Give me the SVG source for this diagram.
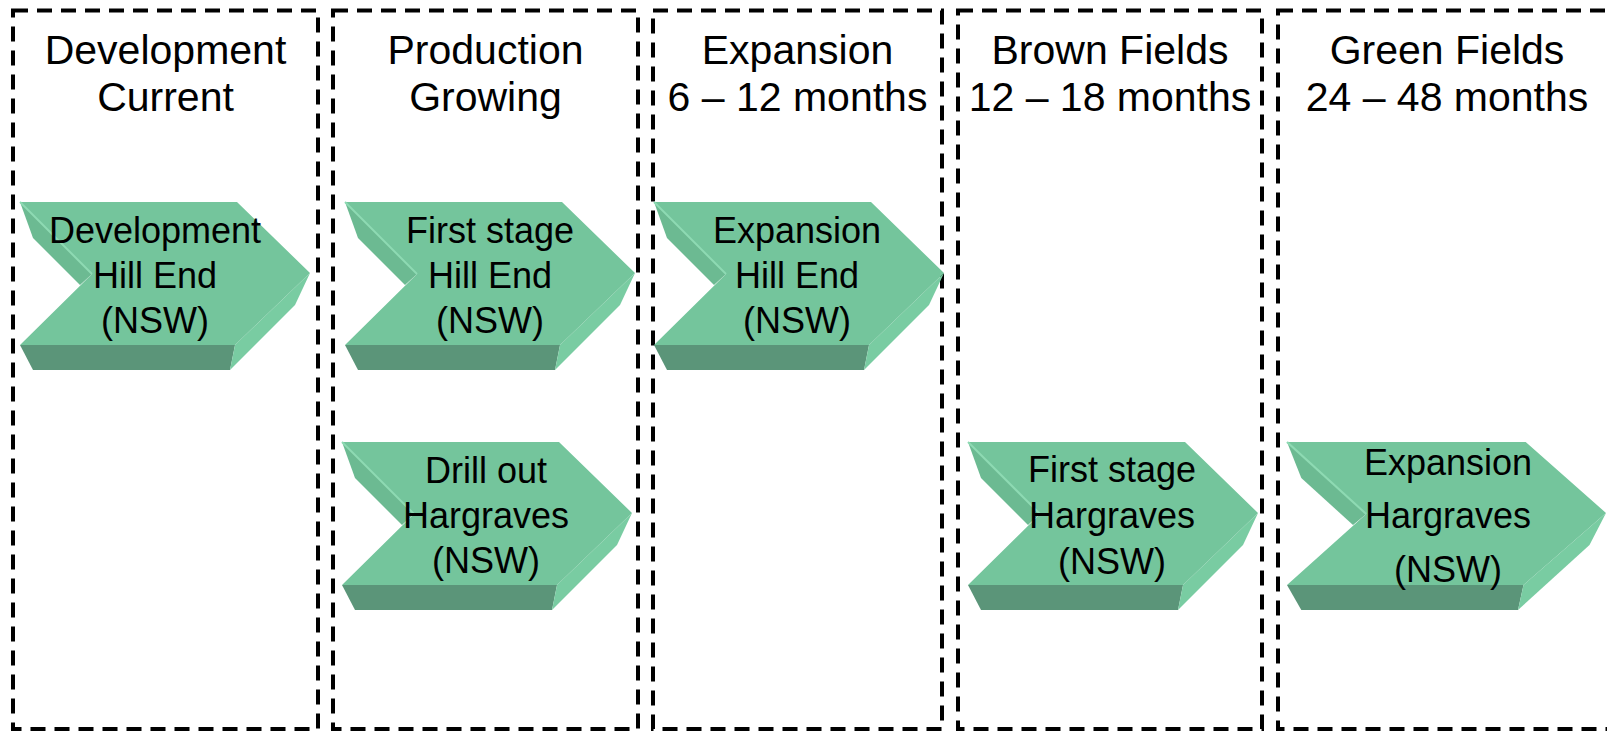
<svg xmlns="http://www.w3.org/2000/svg" xmlns:xlink="http://www.w3.org/1999/xlink" width="1607" height="731" viewBox="0 0 1607 731">
<style>
.col{fill:none;stroke:#000;stroke-width:4;stroke-dasharray:15 9}
.hd{font-family:"Liberation Sans",Arial,sans-serif;font-size:41px;fill:#000;text-anchor:middle}
.lb{font-family:"Liberation Sans",Arial,sans-serif;font-size:36px;fill:#000;text-anchor:middle}
.front{fill:#74c59c}
.left{fill:#6cba92}
.bottom{fill:#5b9579}
.right{fill:#79cca2}
.hl{fill:none;stroke:#8edab3;stroke-width:2}
</style>
<defs>
<g id="chev">
<polygon class="bottom" points="0,143 215,143 210,168 13,168"/>
<polygon class="right" points="290,71 275,103 210,168 215,143"/>
<polygon class="front" points="0,0 217,0 290,71 215,143 0,143 72,72"/>
<polygon class="left" points="0,0 72,72 60,83 13,36"/>
<polyline class="hl" points="0,0 72,72"/>
</g>
</defs>
<g id="columns">
<g id="col-development"><rect class="col" x="13" y="10.5" width="305" height="718.5"/>
<text class="hd" x="165.5" y="64">Development</text><text class="hd" x="165.5" y="111">Current</text></g>
<g id="col-production"><rect class="col" x="333" y="10.5" width="305" height="718.5"/>
<text class="hd" x="485.5" y="64">Production</text><text class="hd" x="485.5" y="111">Growing</text></g>
<g id="col-expansion"><rect class="col" x="653" y="10.5" width="289" height="718.5"/>
<text class="hd" x="797.5" y="64">Expansion</text><text class="hd" x="797.5" y="111">6 – 12 months</text></g>
<g id="col-brown"><rect class="col" x="958" y="10.5" width="304" height="718.5"/>
<text class="hd" x="1110" y="64">Brown Fields</text><text class="hd" x="1110" y="111">12 – 18 months</text></g>
<g id="col-green"><rect class="col" x="1278" y="10.5" width="340" height="718.5"/>
<text class="hd" x="1447" y="64">Green Fields</text><text class="hd" x="1447" y="111">24 – 48 months</text></g>
</g>
<g id="connectors"></g>
<g id="node-dev-hillend"><use xlink:href="#chev" href="#chev" transform="translate(20,202)"/>
<text class="lb" x="155" y="243">Development</text><text class="lb" x="155" y="288">Hill End</text><text class="lb" x="155" y="333">(NSW)</text></g>
<g id="node-first-hillend"><use xlink:href="#chev" href="#chev" transform="translate(345,202)"/>
<text class="lb" x="490" y="243">First stage</text><text class="lb" x="490" y="288">Hill End</text><text class="lb" x="490" y="333">(NSW)</text></g>
<g id="node-exp-hillend"><use xlink:href="#chev" href="#chev" transform="translate(654,202)"/>
<text class="lb" x="797" y="243">Expansion</text><text class="lb" x="797" y="288">Hill End</text><text class="lb" x="797" y="333">(NSW)</text></g>
<g id="node-drill-hargraves"><use xlink:href="#chev" href="#chev" transform="translate(342,442)"/>
<text class="lb" x="486" y="483">Drill out</text><text class="lb" x="486" y="528">Hargraves</text><text class="lb" x="486" y="573">(NSW)</text></g>
<g id="node-first-hargraves"><use xlink:href="#chev" href="#chev" transform="translate(968,442)"/>
<text class="lb" x="1112" y="482">First stage</text><text class="lb" x="1112" y="528">Hargraves</text><text class="lb" x="1112" y="574">(NSW)</text></g>
<g id="node-exp-hargraves"><use xlink:href="#chev" href="#chev" transform="translate(1287,442) scale(1.1,1)"/>
<text class="lb" x="1448" y="475">Expansion</text><text class="lb" x="1448" y="528">Hargraves</text><text class="lb" x="1448" y="582">(NSW)</text></g>
</svg>
